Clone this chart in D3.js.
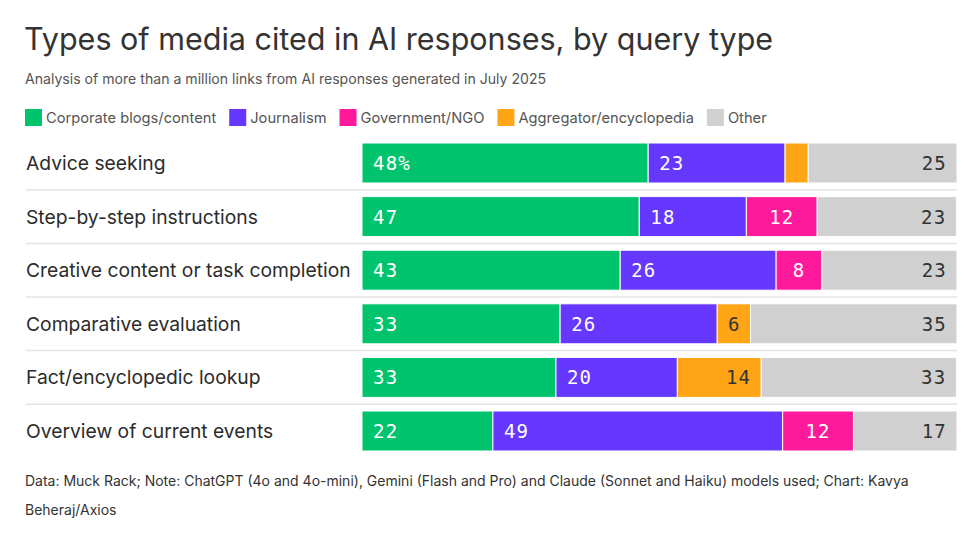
<!DOCTYPE html>
<html>
<head>
<meta charset="utf-8">
<script src="https://cdn.jsdelivr.net/npm/d3@7"></script>
<style>
  body { margin: 0; background: #fff; }
  svg { display: block; }
</style>
</head>
<body>
<div id="chart"></div>
<script>
const width = 978;
const height = 534;

// query types, top to bottom
const categories = [
  "Advice seeking",
  "Step-by-step instructions",
  "Creative content or task completion",
  "Comparative evaluation",
  "Fact/encyclopedic lookup",
  "Overview of current events"
];

// media types (legend order)
const seriesNames = ["Corporate blogs/content", "Journalism", "Government/NGO", "Aggregator/encyclopedia", "Other"];
const seriesKeys = ["corporate", "journalism", "government", "aggregator", "other"];

// shares in %
const corporate  = [48.1, 46.6, 43.4, 33.3, 32.6, 22.0];
const journalism = [23.0, 18.0, 26.2, 26.4, 20.4, 48.7];
const government = [0, 11.9, 7.7, 0, 0, 11.9];
const aggregator = [3.9, 0, 0, 5.6, 14.1, 0];
const other      = [25.0, 23.4, 22.7, 34.7, 32.8, 17.4];

// labels hidden on segments too narrow to hold them
const hideLabel = { aggregator: [0] };

const colors = ["#00c36d", "#6637ff", "#ff1a9b", "#ffa516", "#cfd0cf"];
const textColors = ["#fff", "#fff", "#fff", "#333", "#333"];
const labelAlign = ["start", "start", "middle", "end", "end"];

const seriesValues = [corporate, journalism, government, aggregator, other];
const rows = categories.map((c, i) => {
  const r = { category: c, index: i };
  seriesKeys.forEach((k, j) => { r[k] = seriesValues[j][i]; });
  return r;
});

const svg = d3.select("#chart").append("svg")
  .attr("width", width)
  .attr("height", height);

const sans = "Inter, 'Noto Sans', sans-serif";
const mono = "'DejaVu Sans Mono', 'Liberation Mono', monospace";

// title and subtitle
svg.append("text")
  .attr("x", 24).attr("y", 50)
  .attr("fill", "#333")
  .attr("font-family", sans)
  .attr("font-size", "30.5px")
  .text("Types of media cited in AI responses, by query type");

svg.append("text")
  .attr("x", 25).attr("y", 84)
  .attr("fill", "#555")
  .attr("font-family", sans)
  .attr("font-size", "14.1px")
  .text("Analysis of more than a million links from AI responses generated in July 2025");

// legend
let lx = 25;
const legend = svg.append("g").attr("transform", "translate(0,109)");
seriesNames.forEach((name, i) => {
  legend.append("rect")
    .attr("x", lx).attr("y", 0)
    .attr("width", 17).attr("height", 17)
    .attr("fill", colors[i]);
  const t = legend.append("text")
    .attr("x", lx + 21).attr("y", 14)
    .attr("fill", "#555")
    .attr("font-family", sans)
    .attr("font-size", "14.7px")
    .text(name);
  lx += 21 + t.node().getComputedTextLength() + 13;
});

// scales
const x = d3.scaleLinear().domain([0, 100]).range([362, 957]);
const y = d3.scaleBand()
  .domain(categories)
  .range([136.2, 457.8])
  .paddingInner(0.254)
  .paddingOuter(0.127);

// row separators
svg.append("g").selectAll("line")
  .data(categories.slice(1))
  .join("line")
  .attr("x1", 26).attr("x2", 957)
  .attr("y1", d => y(d) - y.step() * 0.127)
  .attr("y2", d => y(d) - y.step() * 0.127)
  .attr("stroke", "#e4e4e4")
  .attr("stroke-width", 1.5);

// category labels
svg.append("g").selectAll("text")
  .data(categories)
  .join("text")
  .attr("x", 26)
  .attr("y", d => y(d) + y.bandwidth() / 2 + 7)
  .attr("fill", "#2b2b2b")
  .attr("font-family", sans)
  .attr("font-size", "19.3px")
  .text(d => d);

// stacked bars
const stacked = d3.stack().keys(seriesKeys)(rows);

const layers = svg.append("g").selectAll("g")
  .data(stacked)
  .join("g")
  .attr("fill", (d, i) => colors[i]);

layers.selectAll("rect")
  .data(d => d.filter(s => s[1] - s[0] > 0))
  .join("rect")
  .attr("x", d => x(d[0]))
  .attr("y", d => y(d.data.category))
  .attr("width", d => x(d[1]) - x(d[0]))
  .attr("height", y.bandwidth())
  .attr("stroke", "#fff")
  .attr("stroke-width", 1);

// value labels
layers.each(function(layer, i) {
  const key = seriesKeys[i];
  const hidden = hideLabel[key] || [];
  d3.select(this).selectAll("text")
    .data(layer.filter(s => s[1] - s[0] > 0 && !hidden.includes(s.data.index)))
    .join("text")
    .attr("x", d => {
      if (labelAlign[i] === "start") return x(d[0]) + 11;
      if (labelAlign[i] === "middle") return (x(d[0]) + x(d[1])) / 2;
      return x(d[1]) - 10;
    })
    .attr("y", d => y(d.data.category) + y.bandwidth() / 2 + 7)
    .attr("text-anchor", labelAlign[i])
    .attr("fill", textColors[i])
    .attr("font-family", mono)
    .attr("font-size", "19px")
    .attr("letter-spacing", "1.2px")
    .text(d => {
      const v = Math.round(d[1] - d[0]);
      return (i === 0 && d.data.index === 0) ? v + "%" : v;
    });
});

// footer
const footer = svg.append("text")
  .attr("fill", "#333")
  .attr("font-family", sans)
  .attr("font-size", "14px");
footer.append("tspan").attr("x", 25).attr("y", 486)
  .text("Data: Muck Rack; Note: ChatGPT (4o and 4o-mini), Gemini (Flash and Pro) and Claude (Sonnet and Haiku) models used; Chart: Kavya");
footer.append("tspan").attr("x", 25).attr("y", 515)
  .text("Beheraj/Axios");
</script>
</body>
</html>
